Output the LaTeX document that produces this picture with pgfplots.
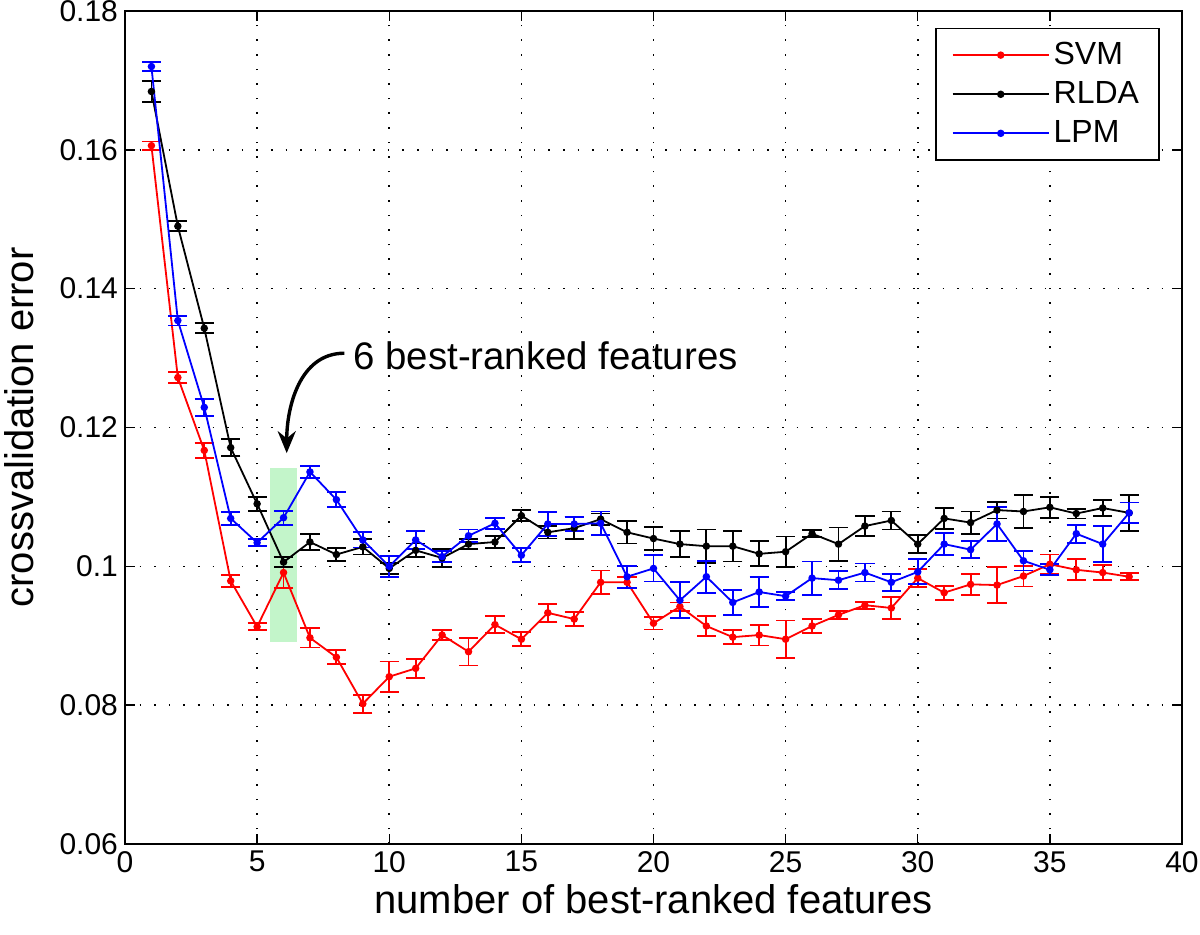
\documentclass[border=0pt]{standalone}
\usepackage{pgfplots}
\pgfplotsset{compat=1.18}
\usepackage{pgfplotstable}
\usepackage{fontspec}
\setmainfont{Liberation Sans}
\usetikzlibrary{arrows.meta}

\definecolor{mintbox}{RGB}{195,245,202}

% x  mean  err
\pgfplotstableread{
x y e
1 0.1606 0.0006
2 0.1272 0.0008
3 0.1167 0.0011
4 0.0979 0.0009
5 0.0913 0.0005
6 0.0991 0.0022
7 0.0897 0.0014
8 0.0869 0.0010
9 0.0802 0.0013
10 0.0841 0.0022
11 0.0853 0.0014
12 0.0901 0.0007
13 0.0877 0.0020
14 0.0916 0.0012
15 0.0895 0.0010
16 0.0933 0.0013
17 0.0924 0.0010
18 0.0977 0.0017
19 0.0977 0.0008
20 0.0918 0.0009
21 0.0942 0.0006
22 0.0914 0.0014
23 0.0898 0.0010
24 0.0901 0.0015
25 0.0895 0.0027
26 0.0914 0.0010
27 0.0930 0.0006
28 0.0944 0.0005
29 0.0940 0.0016
30 0.0983 0.0013
31 0.0962 0.0010
32 0.0974 0.0015
33 0.0973 0.0026
34 0.0986 0.0015
35 0.1003 0.0014
36 0.0995 0.0015
37 0.0991 0.0011
38 0.0985 0.0005
}\svm

\pgfplotstableread{
x y e
1 0.1684 0.0015
2 0.1490 0.0007
3 0.1343 0.0007
4 0.1171 0.0012
5 0.1090 0.0010
6 0.1006 0.0007
7 0.1035 0.0011
8 0.1017 0.0009
9 0.1028 0.0011
10 0.0997 0.0008
11 0.1023 0.0010
12 0.1012 0.0013
13 0.1032 0.0007
14 0.1035 0.0009
15 0.1073 0.0008
16 0.1049 0.0009
17 0.1055 0.0016
18 0.1068 0.0008
19 0.1049 0.0016
20 0.1040 0.0017
21 0.1032 0.0019
22 0.1029 0.0024
23 0.1029 0.0022
24 0.1018 0.0018
25 0.1021 0.0022
26 0.1047 0.0005
27 0.1032 0.0024
28 0.1058 0.0014
29 0.1066 0.0013
30 0.1032 0.0013
31 0.1069 0.0015
32 0.1063 0.0016
33 0.1081 0.0012
34 0.1079 0.0024
35 0.1085 0.0015
36 0.1076 0.0007
37 0.1084 0.0012
38 0.1077 0.0026
}\rlda

\pgfplotstableread{
x y e
1 0.1720 0.0007
2 0.1354 0.0007
3 0.1229 0.0012
4 0.1069 0.0009
5 0.1034 0.0005
6 0.1070 0.0010
7 0.1136 0.0009
8 0.1096 0.0011
9 0.1038 0.0011
10 0.1000 0.0015
11 0.1038 0.0013
12 0.1014 0.0008
13 0.1044 0.0009
14 0.1062 0.0008
15 0.1016 0.0010
16 0.1061 0.0017
17 0.1061 0.0010
18 0.1062 0.0017
19 0.0985 0.0016
20 0.0997 0.0019
21 0.0951 0.0026
22 0.0985 0.0023
23 0.0948 0.0018
24 0.0963 0.0022
25 0.0957 0.0006
26 0.0983 0.0024
27 0.0980 0.0013
28 0.0991 0.0013
29 0.0977 0.0012
30 0.0992 0.0018
31 0.1032 0.0016
32 0.1024 0.0012
33 0.1061 0.0024
34 0.1008 0.0014
35 0.0995 0.0008
36 0.1047 0.0013
37 0.1032 0.0026
38 0.1077 0.0015
}\lpm

\begin{document}
\begin{tikzpicture}
\begin{axis}[
    scale only axis,
    width=528.5pt, height=416.5pt,
    at={(0,0)}, anchor=south west,
    xmin=0, xmax=40, ymin=0.06, ymax=0.18,
    xtick={0,5,...,40},
    xticklabels={0,5,10,15,20,25,30,35,40},
    ytick={0.06,0.08,0.1,0.12,0.14,0.16,0.18},
    yticklabels={0.06,0.08,0.1,0.12,0.14,0.16,0.18},
    tick label style={font=\fontsize{15}{18}\selectfont},
    tick align=inside,
    major tick length=5pt,
    tick style={black, line width=0.7pt},
    axis line style={line width=1pt},
    grid=major,
    major grid style={black, line width=0.8pt, dash pattern=on 0.8pt off 6.5pt},
    xlabel={number of best-ranked features},
    ylabel={crossvalidation error},
    label style={font=\fontsize{20}{24}\selectfont},
    xlabel style={yshift=1pt},
    ylabel style={yshift=6pt},
    every axis plot/.append style={line width=0.9pt, mark=*, mark size=1.4pt},
    error bars/error bar style={line width=0.9pt},
    error bars/error mark options={rotate=90, mark size=4.8pt, line width=0.9pt},
    legend style={at={(0.979,0.980)}, anchor=north east,
        font=\fontsize{16}{20}\selectfont,
        draw=black, line width=0.8pt, inner xsep=8pt, inner ysep=5pt,
        row sep=3pt},
    legend cell align=left,
    legend image code/.code={
        \draw[mark repeat=2, mark phase=2, line width=0.9pt, #1]
            plot coordinates {(0pt,0pt) (24pt,0pt) (48pt,0pt)};
    },
]
\fill[mintbox] (axis cs:5.5,0.0891) rectangle (axis cs:6.5,0.1142);

\addplot[red, mark options={fill=red, draw=red},
    error bars/.cd, y dir=both, y explicit]
    table[x=x, y=y, y error=e] {\svm};
\addlegendentry{SVM}

\addplot[black, mark options={fill=black, draw=black},
    error bars/.cd, y dir=both, y explicit]
    table[x=x, y=y, y error=e] {\rlda};
\addlegendentry{RLDA}

\addplot[blue, mark options={fill=blue, draw=blue},
    error bars/.cd, y dir=both, y explicit]
    table[x=x, y=y, y error=e] {\lpm};
\addlegendentry{LPM}

\draw[line width=1.7pt, -{Stealth[length=11pt, width=9pt]}]
    (axis cs:8.3,0.1307) to[out=180, in=90] (axis cs:6.12,0.1163);
\node[anchor=west, inner sep=0pt, font=\fontsize{19.2}{23}\selectfont]
    at (axis cs:8.63,0.1304) {6 best-ranked features};
\end{axis}
\pgfresetboundingbox
\path[use as bounding box] (-62.5pt,-45.5pt) rectangle (537.5pt,422pt);
\end{tikzpicture}
\end{document}
